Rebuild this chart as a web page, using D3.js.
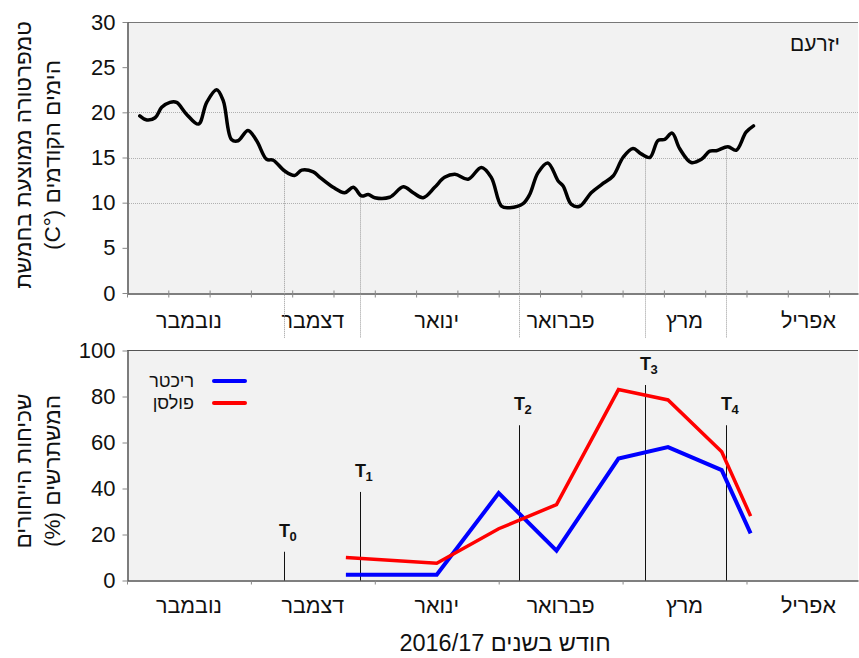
<!DOCTYPE html>
<html>
<head>
<meta charset="utf-8">
<script src="https://cdn.jsdelivr.net/npm/d3@7"></script>
<style>
  body { margin: 0; background: #fff; }
  text { font-family: "Liberation Sans", Arial, sans-serif; fill: #111; }
</style>
</head>
<body>
<script>
const width = 859;
const height = 658;

// days counted from 1 Nov 2016, months drawn as equal 30-day blocks
const months = ["נובמבר", "דצמבר", "ינואר", "פברואר", "מרץ", "אפריל"];

// mean temperature of the 5 previous days, Yizre'am
const tempDays = [3.1, 4.8, 6.8, 8.4, 10.4, 12, 14.4, 17.3, 19.3, 21.7, 23.3, 25.3, 26.9, 29.3, 31.4,
  33.8, 35.4, 38.2, 40.6, 42.3, 45.1, 46.7, 49.9, 52.7, 54.8, 56.8, 58.4, 60, 63.6, 66.9, 69.3,
  71.7, 74.5, 76.9, 79.4, 82.6, 85.8, 88.2, 90.7, 92.7, 95.9, 97.5, 99.5, 101.9, 104.4, 105.6,
  107.6, 109.6, 112.4, 114.9, 117.7, 120.1, 122.5, 124.5, 126.6, 128.6, 130.2, 132, 133.8,
  136.6, 139.1, 141.1, 142.7, 145.5, 147.5, 149.9, 151.7];
const tempValues = [19.6, 19.15, 19.4, 20.55, 21.1, 21.1, 19.8, 18.7, 21.1, 22.5, 21.3, 17, 16.85, 18,
  16.85, 14.8, 14.7, 13.5, 13, 13.6, 13.4, 12.8, 11.7, 11.1, 11.7, 10.75, 10.9, 10.55, 10.6,
  11.75, 11.1, 10.55, 11.7, 12.8, 13.15, 12.6, 13.9, 12.8, 9.6, 9.45, 9.9, 10.9, 13.3, 14.4,
  12.4, 11.85, 9.8, 9.6, 11.1, 12, 12.95, 15, 16, 15.4, 15, 16.9, 17, 17.7, 16, 14.45, 14.8,
  15.7, 15.75, 16.2, 15.8, 17.8, 18.5];

// rooting of cuttings (%)
const rootDays = [53, 75, 90, 104, 119, 131, 144, 151];
const richter = [2.5, 2.5, 38, 13, 53, 58, 48, 20.5];
const paulsen = [10, 7.5, 22.5, 33, 83, 78.5, 56, 28];

// sampling times
const tNames = ["0", "1", "2", "3", "4"];
const tDays = [38, 56.5, 95, 125.5, 145];
const tTops = [12.5, 38.5, 67.5, 85, 67.5];

const tempTicks = [0, 5, 10, 15, 20, 25, 30];
const tempGrid = [10, 15, 20];
const rootTicks = [0, 20, 40, 60, 80, 100];

const svg = d3.select("body").append("svg")
  .attr("width", width)
  .attr("height", height);

const x = d3.scaleLinear().domain([0, 177]).range([127, 858]);
const yTemp = d3.scaleLinear().domain([0, 30]).range([293, 22]);
const yRoot = d3.scaleLinear().domain([0, 100]).range([580.5, 350.5]);

// panels
svg.append("rect").attr("x", 127).attr("y", 22).attr("width", 731).attr("height", 271).attr("fill", "#f2f2f2");
svg.append("rect").attr("x", 127).attr("y", 350).attr("width", 731).attr("height", 230).attr("fill", "#f2f2f2");

svg.selectAll(".grid").data(tempGrid).enter().append("line")
  .attr("x1", 127).attr("x2", 858)
  .attr("y1", d => Math.round(yTemp(d)) + 0.5).attr("y2", d => Math.round(yTemp(d)) + 0.5)
  .attr("stroke", "#b0b0b0").attr("stroke-dasharray", "1,1");

// top borders
svg.append("line").attr("x1", 127).attr("x2", 858).attr("y1", 22.5).attr("y2", 22.5).attr("stroke", "#777");
svg.append("line").attr("x1", 127).attr("x2", 858).attr("y1", 350.5).attr("y2", 350.5).attr("stroke", "#555");

// axes
function styleAxis(g) {
  g.selectAll("path").attr("stroke", "#555").attr("stroke-width", 1.5);
  g.selectAll("line").attr("stroke", "#888");
  g.selectAll("text").attr("font-size", 22).attr("fill", "#111")
    .style("font-family", "'Liberation Sans', Arial, sans-serif");
}

svg.append("g").attr("transform", "translate(127.5,0)")
  .call(d3.axisLeft(yTemp).tickValues(tempTicks).tickSize(5).tickPadding(7).tickSizeOuter(0))
  .call(styleAxis);
svg.append("g").attr("transform", "translate(127.5,0)")
  .call(d3.axisLeft(yRoot).tickValues(rootTicks).tickSize(5).tickPadding(7).tickSizeOuter(0))
  .call(styleAxis);

const xTop = svg.append("g").attr("transform", "translate(0,293.5)")
  .call(d3.axisBottom(x).tickValues(d3.range(0, 177, 10)).tickSize(4).tickFormat("").tickSizeOuter(0))
  .call(styleAxis);
xTop.selectAll(".tick line").attr("y1", -3);

svg.append("g").attr("transform", "translate(0,580.5)")
  .call(d3.axisBottom(x).tickValues(d3.range(0, 177, 30)).tickSize(4).tickFormat("").tickSizeOuter(0))
  .call(styleAxis);

// month labels
[328, 613].forEach(yy => {
  svg.append("g").selectAll("text").data(months).enter().append("text")
    .attr("x", (d, i) => x(i * 30 + 15))
    .attr("y", yy)
    .attr("text-anchor", "middle")
    .attr("direction", "rtl")
    .attr("font-size", 21.5)
    .text(d => d);
});

// sampling markers
function tempAt(day) {
  const i = d3.bisectLeft(tempDays, day);
  const a = i - 1, b = i;
  const t = (day - tempDays[a]) / (tempDays[b] - tempDays[a]);
  return tempValues[a] + t * (tempValues[b] - tempValues[a]);
}

tDays.forEach((day, i) => {
  const xx = Math.round(x(day)) + 0.5;
  const top = yRoot(tTops[i]);
  const base = top - 15;
  svg.append("line")
    .attr("x1", xx).attr("x2", xx)
    .attr("y1", yTemp(tempAt(day)) + 3).attr("y2", Math.min(base - 20, 338))
    .attr("stroke", "#999").attr("stroke-dasharray", "1,1");
  svg.append("line")
    .attr("x1", xx).attr("x2", xx)
    .attr("y1", top).attr("y2", yRoot(0))
    .attr("stroke", "#111");
  svg.append("text")
    .attr("x", xx).attr("y", base)
    .attr("text-anchor", "middle")
    .attr("font-size", 18).attr("font-weight", "bold")
    .text("T");
  svg.append("text")
    .attr("x", xx + 5).attr("y", base + 4)
    .attr("font-size", 13).attr("font-weight", "bold")
    .text(tNames[i]);
});

// temperature curve
svg.append("path")
  .datum(tempDays.map((d, i) => [d, tempValues[i]]))
  .attr("fill", "none")
  .attr("stroke", "#000")
  .attr("stroke-width", 3.5)
  .attr("stroke-linejoin", "round")
  .attr("stroke-linecap", "round")
  .attr("d", d3.line().x(d => x(d[0])).y(d => yTemp(d[1])).curve(d3.curveCatmullRom));

// rooting lines
const rootLine = d3.line().x(d => x(d[0])).y(d => yRoot(d[1]));
const series = [
  { name: "ריכטר", values: richter, color: "#0000ff", w: 4 },
  { name: "פולסן", values: paulsen, color: "#ff0000", w: 3.5 }
];
series.forEach(s => {
  svg.append("path")
    .datum(rootDays.map((d, i) => [d, s.values[i]]))
    .attr("fill", "none")
    .attr("stroke", s.color)
    .attr("stroke-width", s.w)
    .attr("d", rootLine);
});

// legend
series.forEach((s, i) => {
  const ly = 381 + i * 22;
  svg.append("line")
    .attr("x1", 214).attr("x2", 245).attr("y1", ly).attr("y2", ly)
    .attr("stroke", s.color).attr("stroke-width", 4).attr("stroke-linecap", "round");
  svg.append("text")
    .attr("x", 194).attr("y", ly + 6)
    .attr("text-anchor", "end")
    .attr("font-size", 18)
    .text(s.name);
});

svg.append("text")
  .attr("x", 840).attr("y", 51)
  .attr("text-anchor", "end")
  .attr("font-size", 21)
  .text("יזרעם");

// axis titles
function vTitle(lines, cx, cy) {
  lines.forEach((t, i) => {
    svg.append("text")
      .attr("transform", `translate(${cx + i * 29},${cy}) rotate(-90)`)
      .attr("text-anchor", "middle")
      .attr("direction", "rtl")
      .attr("font-size", 22.5)
      .text(t);
  });
}
vTitle(["טמפרטורה ממוצעת בחמשת", "הימים הקודמים (°C)"], 31, 155);
vTitle(["שכיחות הייחורים", "המשתרשים (%)"], 31, 471);

svg.append("text")
  .attr("x", 505).attr("y", 651)
  .attr("text-anchor", "middle")
  .attr("direction", "rtl")
  .attr("font-size", 23.5)
  .text("חודש בשנים 2016/17");
</script>
</body>
</html>
